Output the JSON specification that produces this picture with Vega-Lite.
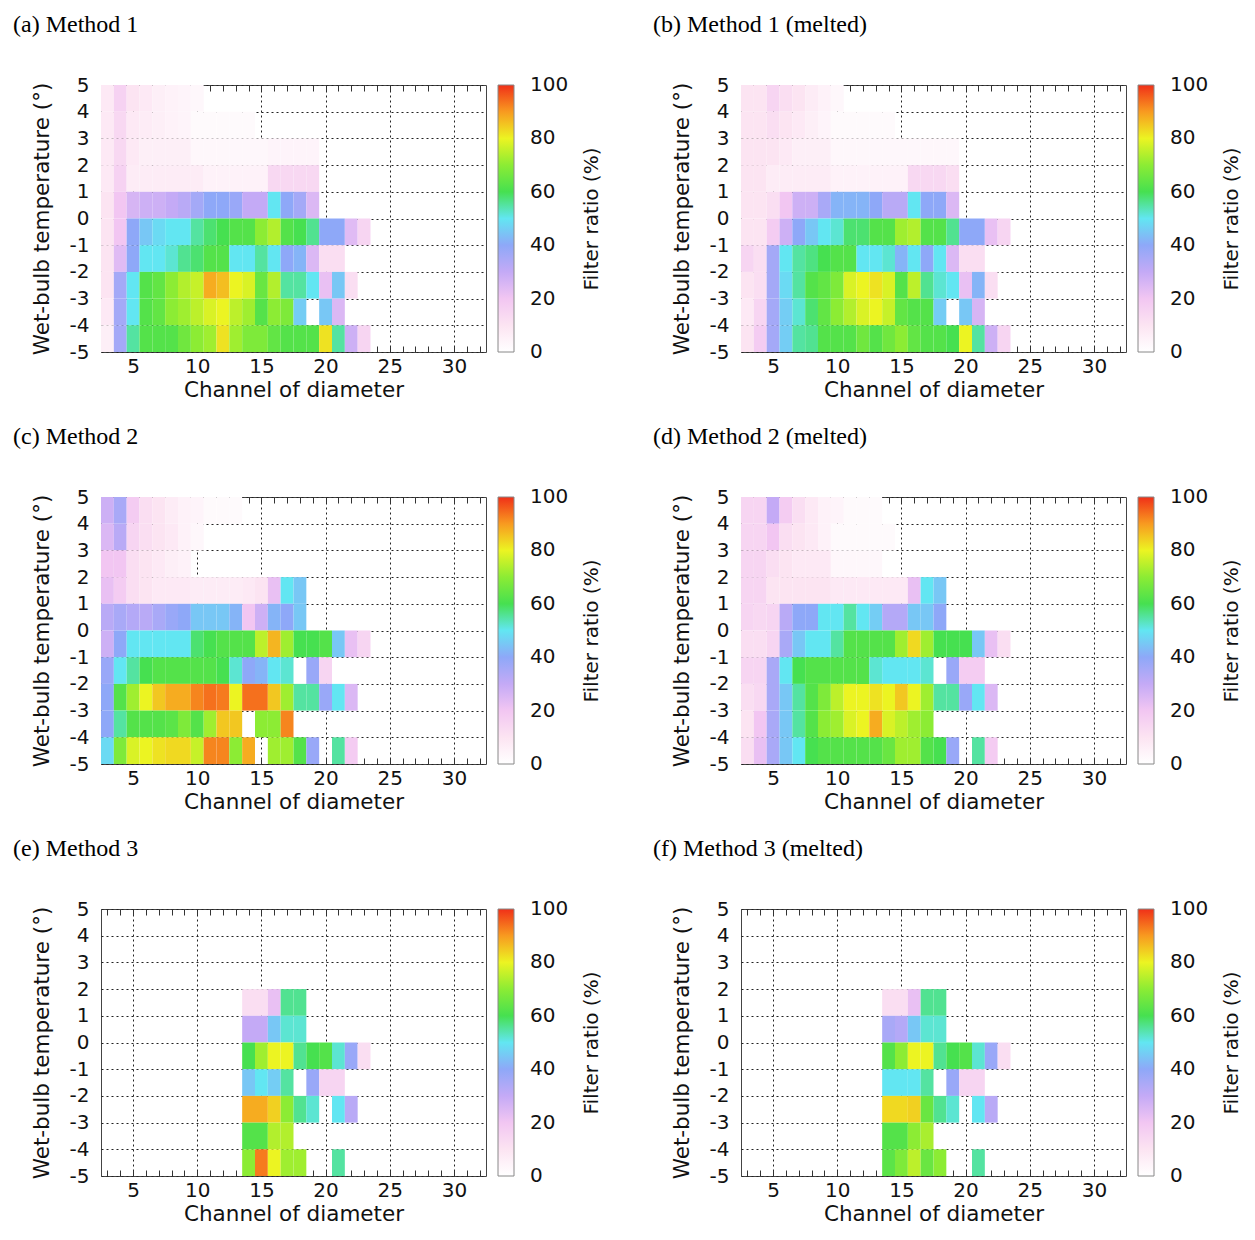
{
  "$schema": "https://vega.github.io/schema/vega-lite/v6.json",
  "background": "white",
  "padding": {"left": 12, "top": 12, "right": 10, "bottom": 10},
  "datasets": {
    "cells": [
      {"p":"a","tw":4,"ch":3,"r":8},{"p":"a","tw":4,"ch":4,"r":16},{"p":"a","tw":4,"ch":5,"r":10},{"p":"a","tw":4,"ch":6,"r":8},{"p":"a","tw":4,"ch":7,"r":6},{"p":"a","tw":4,"ch":8,"r":5},{"p":"a","tw":4,"ch":9,"r":4},{"p":"a","tw":4,"ch":10,"r":3},
      {"p":"a","tw":3,"ch":3,"r":8},{"p":"a","tw":3,"ch":4,"r":14},{"p":"a","tw":3,"ch":5,"r":8},{"p":"a","tw":3,"ch":6,"r":7},{"p":"a","tw":3,"ch":7,"r":6},{"p":"a","tw":3,"ch":8,"r":5},{"p":"a","tw":3,"ch":9,"r":4},{"p":"a","tw":3,"ch":10,"r":2},{"p":"a","tw":3,"ch":11,"r":2},{"p":"a","tw":3,"ch":12,"r":2},{"p":"a","tw":3,"ch":13,"r":2},{"p":"a","tw":3,"ch":14,"r":2},
      {"p":"a","tw":2,"ch":3,"r":8},{"p":"a","tw":2,"ch":4,"r":14},{"p":"a","tw":2,"ch":5,"r":8},{"p":"a","tw":2,"ch":6,"r":6},{"p":"a","tw":2,"ch":7,"r":6},{"p":"a","tw":2,"ch":8,"r":6},{"p":"a","tw":2,"ch":9,"r":6},{"p":"a","tw":2,"ch":10,"r":3},{"p":"a","tw":2,"ch":11,"r":3},{"p":"a","tw":2,"ch":12,"r":3},{"p":"a","tw":2,"ch":13,"r":3},{"p":"a","tw":2,"ch":14,"r":3},{"p":"a","tw":2,"ch":15,"r":3},{"p":"a","tw":2,"ch":16,"r":4},{"p":"a","tw":2,"ch":17,"r":4},{"p":"a","tw":2,"ch":18,"r":4},{"p":"a","tw":2,"ch":19,"r":4},
      {"p":"a","tw":1,"ch":3,"r":8},{"p":"a","tw":1,"ch":4,"r":16},{"p":"a","tw":1,"ch":5,"r":7},{"p":"a","tw":1,"ch":6,"r":7},{"p":"a","tw":1,"ch":7,"r":7},{"p":"a","tw":1,"ch":8,"r":7},{"p":"a","tw":1,"ch":9,"r":7},{"p":"a","tw":1,"ch":10,"r":7},{"p":"a","tw":1,"ch":11,"r":5},{"p":"a","tw":1,"ch":12,"r":5},{"p":"a","tw":1,"ch":13,"r":5},{"p":"a","tw":1,"ch":14,"r":5},{"p":"a","tw":1,"ch":15,"r":5},{"p":"a","tw":1,"ch":16,"r":14},{"p":"a","tw":1,"ch":17,"r":14},{"p":"a","tw":1,"ch":18,"r":14},{"p":"a","tw":1,"ch":19,"r":14},
      {"p":"a","tw":0,"ch":3,"r":10},{"p":"a","tw":0,"ch":4,"r":20},{"p":"a","tw":0,"ch":5,"r":26},{"p":"a","tw":0,"ch":6,"r":28},{"p":"a","tw":0,"ch":7,"r":28},{"p":"a","tw":0,"ch":8,"r":30},{"p":"a","tw":0,"ch":9,"r":32},{"p":"a","tw":0,"ch":10,"r":36},{"p":"a","tw":0,"ch":11,"r":40},{"p":"a","tw":0,"ch":12,"r":40},{"p":"a","tw":0,"ch":13,"r":38},{"p":"a","tw":0,"ch":14,"r":30},{"p":"a","tw":0,"ch":15,"r":30},{"p":"a","tw":0,"ch":16,"r":50},{"p":"a","tw":0,"ch":17,"r":40},{"p":"a","tw":0,"ch":18,"r":36},{"p":"a","tw":0,"ch":19,"r":25},
      {"p":"a","tw":-1,"ch":3,"r":10},{"p":"a","tw":-1,"ch":4,"r":20},{"p":"a","tw":-1,"ch":5,"r":40},{"p":"a","tw":-1,"ch":6,"r":45},{"p":"a","tw":-1,"ch":7,"r":48},{"p":"a","tw":-1,"ch":8,"r":50},{"p":"a","tw":-1,"ch":9,"r":50},{"p":"a","tw":-1,"ch":10,"r":55},{"p":"a","tw":-1,"ch":11,"r":58},{"p":"a","tw":-1,"ch":12,"r":60},{"p":"a","tw":-1,"ch":13,"r":62},{"p":"a","tw":-1,"ch":14,"r":62},{"p":"a","tw":-1,"ch":15,"r":70},{"p":"a","tw":-1,"ch":16,"r":74},{"p":"a","tw":-1,"ch":17,"r":62},{"p":"a","tw":-1,"ch":18,"r":60},{"p":"a","tw":-1,"ch":19,"r":56},{"p":"a","tw":-1,"ch":20,"r":40},{"p":"a","tw":-1,"ch":21,"r":40},{"p":"a","tw":-1,"ch":22,"r":24},{"p":"a","tw":-1,"ch":23,"r":15},
      {"p":"a","tw":-2,"ch":3,"r":10},{"p":"a","tw":-2,"ch":4,"r":24},{"p":"a","tw":-2,"ch":5,"r":40},{"p":"a","tw":-2,"ch":6,"r":50},{"p":"a","tw":-2,"ch":7,"r":50},{"p":"a","tw":-2,"ch":8,"r":52},{"p":"a","tw":-2,"ch":9,"r":56},{"p":"a","tw":-2,"ch":10,"r":58},{"p":"a","tw":-2,"ch":11,"r":62},{"p":"a","tw":-2,"ch":12,"r":62},{"p":"a","tw":-2,"ch":13,"r":50},{"p":"a","tw":-2,"ch":14,"r":50},{"p":"a","tw":-2,"ch":15,"r":55},{"p":"a","tw":-2,"ch":16,"r":50},{"p":"a","tw":-2,"ch":17,"r":40},{"p":"a","tw":-2,"ch":18,"r":42},{"p":"a","tw":-2,"ch":19,"r":25},{"p":"a","tw":-2,"ch":20,"r":12},{"p":"a","tw":-2,"ch":21,"r":12},
      {"p":"a","tw":-3,"ch":3,"r":10},{"p":"a","tw":-3,"ch":4,"r":36},{"p":"a","tw":-3,"ch":5,"r":50},{"p":"a","tw":-3,"ch":6,"r":62},{"p":"a","tw":-3,"ch":7,"r":64},{"p":"a","tw":-3,"ch":8,"r":70},{"p":"a","tw":-3,"ch":9,"r":74},{"p":"a","tw":-3,"ch":10,"r":76},{"p":"a","tw":-3,"ch":11,"r":88},{"p":"a","tw":-3,"ch":12,"r":86},{"p":"a","tw":-3,"ch":13,"r":80},{"p":"a","tw":-3,"ch":14,"r":78},{"p":"a","tw":-3,"ch":15,"r":65},{"p":"a","tw":-3,"ch":16,"r":74},{"p":"a","tw":-3,"ch":17,"r":55},{"p":"a","tw":-3,"ch":18,"r":55},{"p":"a","tw":-3,"ch":19,"r":50},{"p":"a","tw":-3,"ch":20,"r":22},{"p":"a","tw":-3,"ch":21,"r":45},{"p":"a","tw":-3,"ch":22,"r":12},
      {"p":"a","tw":-4,"ch":3,"r":8},{"p":"a","tw":-4,"ch":4,"r":36},{"p":"a","tw":-4,"ch":5,"r":50},{"p":"a","tw":-4,"ch":6,"r":62},{"p":"a","tw":-4,"ch":7,"r":64},{"p":"a","tw":-4,"ch":8,"r":70},{"p":"a","tw":-4,"ch":9,"r":72},{"p":"a","tw":-4,"ch":10,"r":75},{"p":"a","tw":-4,"ch":11,"r":78},{"p":"a","tw":-4,"ch":12,"r":80},{"p":"a","tw":-4,"ch":13,"r":75},{"p":"a","tw":-4,"ch":14,"r":72},{"p":"a","tw":-4,"ch":15,"r":62},{"p":"a","tw":-4,"ch":16,"r":70},{"p":"a","tw":-4,"ch":17,"r":68},{"p":"a","tw":-4,"ch":18,"r":46},{"p":"a","tw":-4,"ch":20,"r":45},{"p":"a","tw":-4,"ch":21,"r":25},
      {"p":"a","tw":-5,"ch":3,"r":6},{"p":"a","tw":-5,"ch":4,"r":36},{"p":"a","tw":-5,"ch":5,"r":55},{"p":"a","tw":-5,"ch":6,"r":62},{"p":"a","tw":-5,"ch":7,"r":62},{"p":"a","tw":-5,"ch":8,"r":62},{"p":"a","tw":-5,"ch":9,"r":66},{"p":"a","tw":-5,"ch":10,"r":70},{"p":"a","tw":-5,"ch":11,"r":72},{"p":"a","tw":-5,"ch":12,"r":82},{"p":"a","tw":-5,"ch":13,"r":72},{"p":"a","tw":-5,"ch":14,"r":68},{"p":"a","tw":-5,"ch":15,"r":68},{"p":"a","tw":-5,"ch":16,"r":64},{"p":"a","tw":-5,"ch":17,"r":62},{"p":"a","tw":-5,"ch":18,"r":62},{"p":"a","tw":-5,"ch":19,"r":62},{"p":"a","tw":-5,"ch":20,"r":82},{"p":"a","tw":-5,"ch":21,"r":55},{"p":"a","tw":-5,"ch":22,"r":28},{"p":"a","tw":-5,"ch":23,"r":15},

      {"p":"b","tw":4,"ch":3,"r":10},{"p":"b","tw":4,"ch":4,"r":10},{"p":"b","tw":4,"ch":5,"r":15},{"p":"b","tw":4,"ch":6,"r":12},{"p":"b","tw":4,"ch":7,"r":10},{"p":"b","tw":4,"ch":8,"r":7},{"p":"b","tw":4,"ch":9,"r":5},{"p":"b","tw":4,"ch":10,"r":3},
      {"p":"b","tw":3,"ch":3,"r":10},{"p":"b","tw":3,"ch":4,"r":10},{"p":"b","tw":3,"ch":5,"r":12},{"p":"b","tw":3,"ch":6,"r":10},{"p":"b","tw":3,"ch":7,"r":8},{"p":"b","tw":3,"ch":8,"r":6},{"p":"b","tw":3,"ch":9,"r":4},{"p":"b","tw":3,"ch":10,"r":2},{"p":"b","tw":3,"ch":11,"r":2},{"p":"b","tw":3,"ch":12,"r":2},{"p":"b","tw":3,"ch":13,"r":2},{"p":"b","tw":3,"ch":14,"r":2},
      {"p":"b","tw":2,"ch":3,"r":10},{"p":"b","tw":2,"ch":4,"r":10},{"p":"b","tw":2,"ch":5,"r":10},{"p":"b","tw":2,"ch":6,"r":8},{"p":"b","tw":2,"ch":7,"r":6},{"p":"b","tw":2,"ch":8,"r":6},{"p":"b","tw":2,"ch":9,"r":6},{"p":"b","tw":2,"ch":10,"r":3},{"p":"b","tw":2,"ch":11,"r":3},{"p":"b","tw":2,"ch":12,"r":3},{"p":"b","tw":2,"ch":13,"r":3},{"p":"b","tw":2,"ch":14,"r":3},{"p":"b","tw":2,"ch":15,"r":3},{"p":"b","tw":2,"ch":16,"r":3},{"p":"b","tw":2,"ch":17,"r":3},{"p":"b","tw":2,"ch":18,"r":3},{"p":"b","tw":2,"ch":19,"r":3},
      {"p":"b","tw":1,"ch":3,"r":10},{"p":"b","tw":1,"ch":4,"r":10},{"p":"b","tw":1,"ch":5,"r":7},{"p":"b","tw":1,"ch":6,"r":7},{"p":"b","tw":1,"ch":7,"r":7},{"p":"b","tw":1,"ch":8,"r":7},{"p":"b","tw":1,"ch":9,"r":7},{"p":"b","tw":1,"ch":10,"r":5},{"p":"b","tw":1,"ch":11,"r":5},{"p":"b","tw":1,"ch":12,"r":5},{"p":"b","tw":1,"ch":13,"r":5},{"p":"b","tw":1,"ch":14,"r":5},{"p":"b","tw":1,"ch":15,"r":5},{"p":"b","tw":1,"ch":16,"r":14},{"p":"b","tw":1,"ch":17,"r":14},{"p":"b","tw":1,"ch":18,"r":14},{"p":"b","tw":1,"ch":19,"r":12},
      {"p":"b","tw":0,"ch":3,"r":10},{"p":"b","tw":0,"ch":4,"r":10},{"p":"b","tw":0,"ch":5,"r":12},{"p":"b","tw":0,"ch":6,"r":20},{"p":"b","tw":0,"ch":7,"r":28},{"p":"b","tw":0,"ch":8,"r":28},{"p":"b","tw":0,"ch":9,"r":35},{"p":"b","tw":0,"ch":10,"r":42},{"p":"b","tw":0,"ch":11,"r":42},{"p":"b","tw":0,"ch":12,"r":42},{"p":"b","tw":0,"ch":13,"r":40},{"p":"b","tw":0,"ch":14,"r":32},{"p":"b","tw":0,"ch":15,"r":32},{"p":"b","tw":0,"ch":16,"r":50},{"p":"b","tw":0,"ch":17,"r":40},{"p":"b","tw":0,"ch":18,"r":40},{"p":"b","tw":0,"ch":19,"r":25},
      {"p":"b","tw":-1,"ch":3,"r":10},{"p":"b","tw":-1,"ch":4,"r":10},{"p":"b","tw":-1,"ch":5,"r":18},{"p":"b","tw":-1,"ch":6,"r":28},{"p":"b","tw":-1,"ch":7,"r":40},{"p":"b","tw":-1,"ch":8,"r":45},{"p":"b","tw":-1,"ch":9,"r":50},{"p":"b","tw":-1,"ch":10,"r":52},{"p":"b","tw":-1,"ch":11,"r":58},{"p":"b","tw":-1,"ch":12,"r":58},{"p":"b","tw":-1,"ch":13,"r":62},{"p":"b","tw":-1,"ch":14,"r":62},{"p":"b","tw":-1,"ch":15,"r":72},{"p":"b","tw":-1,"ch":16,"r":74},{"p":"b","tw":-1,"ch":17,"r":62},{"p":"b","tw":-1,"ch":18,"r":62},{"p":"b","tw":-1,"ch":19,"r":56},{"p":"b","tw":-1,"ch":20,"r":40},{"p":"b","tw":-1,"ch":21,"r":40},{"p":"b","tw":-1,"ch":22,"r":22},{"p":"b","tw":-1,"ch":23,"r":15},
      {"p":"b","tw":-2,"ch":3,"r":15},{"p":"b","tw":-2,"ch":4,"r":12},{"p":"b","tw":-2,"ch":5,"r":36},{"p":"b","tw":-2,"ch":6,"r":50},{"p":"b","tw":-2,"ch":7,"r":55},{"p":"b","tw":-2,"ch":8,"r":57},{"p":"b","tw":-2,"ch":9,"r":60},{"p":"b","tw":-2,"ch":10,"r":62},{"p":"b","tw":-2,"ch":11,"r":62},{"p":"b","tw":-2,"ch":12,"r":50},{"p":"b","tw":-2,"ch":13,"r":50},{"p":"b","tw":-2,"ch":14,"r":52},{"p":"b","tw":-2,"ch":15,"r":42},{"p":"b","tw":-2,"ch":16,"r":50},{"p":"b","tw":-2,"ch":17,"r":40},{"p":"b","tw":-2,"ch":18,"r":50},{"p":"b","tw":-2,"ch":19,"r":25},{"p":"b","tw":-2,"ch":20,"r":12},{"p":"b","tw":-2,"ch":21,"r":12},
      {"p":"b","tw":-3,"ch":3,"r":10},{"p":"b","tw":-3,"ch":4,"r":12},{"p":"b","tw":-3,"ch":5,"r":36},{"p":"b","tw":-3,"ch":6,"r":48},{"p":"b","tw":-3,"ch":7,"r":55},{"p":"b","tw":-3,"ch":8,"r":62},{"p":"b","tw":-3,"ch":9,"r":64},{"p":"b","tw":-3,"ch":10,"r":68},{"p":"b","tw":-3,"ch":11,"r":78},{"p":"b","tw":-3,"ch":12,"r":80},{"p":"b","tw":-3,"ch":13,"r":82},{"p":"b","tw":-3,"ch":14,"r":78},{"p":"b","tw":-3,"ch":15,"r":62},{"p":"b","tw":-3,"ch":16,"r":75},{"p":"b","tw":-3,"ch":17,"r":56},{"p":"b","tw":-3,"ch":18,"r":52},{"p":"b","tw":-3,"ch":19,"r":50},{"p":"b","tw":-3,"ch":20,"r":22},{"p":"b","tw":-3,"ch":21,"r":42},{"p":"b","tw":-3,"ch":22,"r":12},
      {"p":"b","tw":-4,"ch":3,"r":8},{"p":"b","tw":-4,"ch":4,"r":15},{"p":"b","tw":-4,"ch":5,"r":36},{"p":"b","tw":-4,"ch":6,"r":46},{"p":"b","tw":-4,"ch":7,"r":52},{"p":"b","tw":-4,"ch":8,"r":58},{"p":"b","tw":-4,"ch":9,"r":64},{"p":"b","tw":-4,"ch":10,"r":70},{"p":"b","tw":-4,"ch":11,"r":74},{"p":"b","tw":-4,"ch":12,"r":78},{"p":"b","tw":-4,"ch":13,"r":80},{"p":"b","tw":-4,"ch":14,"r":76},{"p":"b","tw":-4,"ch":15,"r":64},{"p":"b","tw":-4,"ch":16,"r":62},{"p":"b","tw":-4,"ch":17,"r":62},{"p":"b","tw":-4,"ch":18,"r":46},{"p":"b","tw":-4,"ch":20,"r":45},{"p":"b","tw":-4,"ch":21,"r":26},
      {"p":"b","tw":-5,"ch":3,"r":10},{"p":"b","tw":-5,"ch":4,"r":18},{"p":"b","tw":-5,"ch":5,"r":36},{"p":"b","tw":-5,"ch":6,"r":46},{"p":"b","tw":-5,"ch":7,"r":55},{"p":"b","tw":-5,"ch":8,"r":56},{"p":"b","tw":-5,"ch":9,"r":62},{"p":"b","tw":-5,"ch":10,"r":62},{"p":"b","tw":-5,"ch":11,"r":62},{"p":"b","tw":-5,"ch":12,"r":66},{"p":"b","tw":-5,"ch":13,"r":62},{"p":"b","tw":-5,"ch":14,"r":66},{"p":"b","tw":-5,"ch":15,"r":70},{"p":"b","tw":-5,"ch":16,"r":64},{"p":"b","tw":-5,"ch":17,"r":62},{"p":"b","tw":-5,"ch":18,"r":62},{"p":"b","tw":-5,"ch":19,"r":60},{"p":"b","tw":-5,"ch":20,"r":80},{"p":"b","tw":-5,"ch":21,"r":55},{"p":"b","tw":-5,"ch":22,"r":28},{"p":"b","tw":-5,"ch":23,"r":15},

      {"p":"c","tw":4,"ch":3,"r":28},{"p":"c","tw":4,"ch":4,"r":35},{"p":"c","tw":4,"ch":5,"r":18},{"p":"c","tw":4,"ch":6,"r":12},{"p":"c","tw":4,"ch":7,"r":10},{"p":"c","tw":4,"ch":8,"r":7},{"p":"c","tw":4,"ch":9,"r":5},{"p":"c","tw":4,"ch":10,"r":4},{"p":"c","tw":4,"ch":11,"r":2},{"p":"c","tw":4,"ch":12,"r":2},{"p":"c","tw":4,"ch":13,"r":2},
      {"p":"c","tw":3,"ch":3,"r":25},{"p":"c","tw":3,"ch":4,"r":32},{"p":"c","tw":3,"ch":5,"r":15},{"p":"c","tw":3,"ch":6,"r":12},{"p":"c","tw":3,"ch":7,"r":10},{"p":"c","tw":3,"ch":8,"r":8},{"p":"c","tw":3,"ch":9,"r":5},{"p":"c","tw":3,"ch":10,"r":3},
      {"p":"c","tw":2,"ch":3,"r":20},{"p":"c","tw":2,"ch":4,"r":20},{"p":"c","tw":2,"ch":5,"r":12},{"p":"c","tw":2,"ch":6,"r":10},{"p":"c","tw":2,"ch":7,"r":8},{"p":"c","tw":2,"ch":8,"r":6},{"p":"c","tw":2,"ch":9,"r":5},
      {"p":"c","tw":1,"ch":3,"r":22},{"p":"c","tw":1,"ch":4,"r":18},{"p":"c","tw":1,"ch":5,"r":12},{"p":"c","tw":1,"ch":6,"r":10},{"p":"c","tw":1,"ch":7,"r":8},{"p":"c","tw":1,"ch":8,"r":8},{"p":"c","tw":1,"ch":9,"r":8},{"p":"c","tw":1,"ch":10,"r":7},{"p":"c","tw":1,"ch":11,"r":7},{"p":"c","tw":1,"ch":12,"r":7},{"p":"c","tw":1,"ch":13,"r":7},{"p":"c","tw":1,"ch":14,"r":8},{"p":"c","tw":1,"ch":15,"r":10},{"p":"c","tw":1,"ch":16,"r":22},{"p":"c","tw":1,"ch":17,"r":50},{"p":"c","tw":1,"ch":18,"r":45},
      {"p":"c","tw":0,"ch":3,"r":32},{"p":"c","tw":0,"ch":4,"r":35},{"p":"c","tw":0,"ch":5,"r":33},{"p":"c","tw":0,"ch":6,"r":32},{"p":"c","tw":0,"ch":7,"r":35},{"p":"c","tw":0,"ch":8,"r":38},{"p":"c","tw":0,"ch":9,"r":40},{"p":"c","tw":0,"ch":10,"r":45},{"p":"c","tw":0,"ch":11,"r":45},{"p":"c","tw":0,"ch":12,"r":45},{"p":"c","tw":0,"ch":13,"r":42},{"p":"c","tw":0,"ch":14,"r":20},{"p":"c","tw":0,"ch":15,"r":28},{"p":"c","tw":0,"ch":16,"r":42},{"p":"c","tw":0,"ch":17,"r":40},{"p":"c","tw":0,"ch":18,"r":45},
      {"p":"c","tw":-1,"ch":3,"r":28},{"p":"c","tw":-1,"ch":4,"r":40},{"p":"c","tw":-1,"ch":5,"r":50},{"p":"c","tw":-1,"ch":6,"r":50},{"p":"c","tw":-1,"ch":7,"r":50},{"p":"c","tw":-1,"ch":8,"r":50},{"p":"c","tw":-1,"ch":9,"r":50},{"p":"c","tw":-1,"ch":10,"r":58},{"p":"c","tw":-1,"ch":11,"r":60},{"p":"c","tw":-1,"ch":12,"r":62},{"p":"c","tw":-1,"ch":13,"r":62},{"p":"c","tw":-1,"ch":14,"r":62},{"p":"c","tw":-1,"ch":15,"r":75},{"p":"c","tw":-1,"ch":16,"r":87},{"p":"c","tw":-1,"ch":17,"r":72},{"p":"c","tw":-1,"ch":18,"r":60},{"p":"c","tw":-1,"ch":19,"r":60},{"p":"c","tw":-1,"ch":20,"r":62},{"p":"c","tw":-1,"ch":21,"r":45},{"p":"c","tw":-1,"ch":22,"r":22},{"p":"c","tw":-1,"ch":23,"r":15},
      {"p":"c","tw":-2,"ch":3,"r":38},{"p":"c","tw":-2,"ch":4,"r":50},{"p":"c","tw":-2,"ch":5,"r":55},{"p":"c","tw":-2,"ch":6,"r":60},{"p":"c","tw":-2,"ch":7,"r":62},{"p":"c","tw":-2,"ch":8,"r":62},{"p":"c","tw":-2,"ch":9,"r":62},{"p":"c","tw":-2,"ch":10,"r":62},{"p":"c","tw":-2,"ch":11,"r":62},{"p":"c","tw":-2,"ch":12,"r":60},{"p":"c","tw":-2,"ch":13,"r":52},{"p":"c","tw":-2,"ch":14,"r":40},{"p":"c","tw":-2,"ch":15,"r":42},{"p":"c","tw":-2,"ch":16,"r":50},{"p":"c","tw":-2,"ch":17,"r":52},{"p":"c","tw":-2,"ch":19,"r":38},{"p":"c","tw":-2,"ch":20,"r":15},
      {"p":"c","tw":-3,"ch":3,"r":40},{"p":"c","tw":-3,"ch":4,"r":62},{"p":"c","tw":-3,"ch":5,"r":72},{"p":"c","tw":-3,"ch":6,"r":80},{"p":"c","tw":-3,"ch":7,"r":85},{"p":"c","tw":-3,"ch":8,"r":88},{"p":"c","tw":-3,"ch":9,"r":88},{"p":"c","tw":-3,"ch":10,"r":92},{"p":"c","tw":-3,"ch":11,"r":94},{"p":"c","tw":-3,"ch":12,"r":93},{"p":"c","tw":-3,"ch":13,"r":80},{"p":"c","tw":-3,"ch":14,"r":94},{"p":"c","tw":-3,"ch":15,"r":94},{"p":"c","tw":-3,"ch":16,"r":85},{"p":"c","tw":-3,"ch":17,"r":72},{"p":"c","tw":-3,"ch":18,"r":55},{"p":"c","tw":-3,"ch":19,"r":55},{"p":"c","tw":-3,"ch":20,"r":38},{"p":"c","tw":-3,"ch":21,"r":50},{"p":"c","tw":-3,"ch":22,"r":25},
      {"p":"c","tw":-4,"ch":3,"r":40},{"p":"c","tw":-4,"ch":4,"r":55},{"p":"c","tw":-4,"ch":5,"r":62},{"p":"c","tw":-4,"ch":6,"r":62},{"p":"c","tw":-4,"ch":7,"r":62},{"p":"c","tw":-4,"ch":8,"r":63},{"p":"c","tw":-4,"ch":9,"r":68},{"p":"c","tw":-4,"ch":10,"r":62},{"p":"c","tw":-4,"ch":11,"r":72},{"p":"c","tw":-4,"ch":12,"r":85},{"p":"c","tw":-4,"ch":13,"r":85},{"p":"c","tw":-4,"ch":15,"r":70},{"p":"c","tw":-4,"ch":16,"r":70},{"p":"c","tw":-4,"ch":17,"r":92},
      {"p":"c","tw":-5,"ch":3,"r":48},{"p":"c","tw":-5,"ch":4,"r":68},{"p":"c","tw":-5,"ch":5,"r":78},{"p":"c","tw":-5,"ch":6,"r":80},{"p":"c","tw":-5,"ch":7,"r":82},{"p":"c","tw":-5,"ch":8,"r":83},{"p":"c","tw":-5,"ch":9,"r":83},{"p":"c","tw":-5,"ch":10,"r":76},{"p":"c","tw":-5,"ch":11,"r":92},{"p":"c","tw":-5,"ch":12,"r":92},{"p":"c","tw":-5,"ch":13,"r":70},{"p":"c","tw":-5,"ch":14,"r":88},{"p":"c","tw":-5,"ch":16,"r":72},{"p":"c","tw":-5,"ch":17,"r":72},{"p":"c","tw":-5,"ch":18,"r":62},{"p":"c","tw":-5,"ch":19,"r":38},{"p":"c","tw":-5,"ch":21,"r":55},{"p":"c","tw":-5,"ch":22,"r":18},

      {"p":"d","tw":4,"ch":3,"r":15},{"p":"d","tw":4,"ch":4,"r":15},{"p":"d","tw":4,"ch":5,"r":30},{"p":"d","tw":4,"ch":6,"r":18},{"p":"d","tw":4,"ch":7,"r":12},{"p":"d","tw":4,"ch":8,"r":8},{"p":"d","tw":4,"ch":9,"r":5},{"p":"d","tw":4,"ch":10,"r":4},{"p":"d","tw":4,"ch":11,"r":2},{"p":"d","tw":4,"ch":12,"r":2},{"p":"d","tw":4,"ch":13,"r":2},
      {"p":"d","tw":3,"ch":3,"r":15},{"p":"d","tw":3,"ch":4,"r":15},{"p":"d","tw":3,"ch":5,"r":20},{"p":"d","tw":3,"ch":6,"r":12},{"p":"d","tw":3,"ch":7,"r":10},{"p":"d","tw":3,"ch":8,"r":8},{"p":"d","tw":3,"ch":9,"r":5},{"p":"d","tw":3,"ch":10,"r":2},{"p":"d","tw":3,"ch":11,"r":2},{"p":"d","tw":3,"ch":12,"r":2},{"p":"d","tw":3,"ch":13,"r":2},{"p":"d","tw":3,"ch":14,"r":2},
      {"p":"d","tw":2,"ch":3,"r":15},{"p":"d","tw":2,"ch":4,"r":15},{"p":"d","tw":2,"ch":5,"r":12},{"p":"d","tw":2,"ch":6,"r":10},{"p":"d","tw":2,"ch":7,"r":8},{"p":"d","tw":2,"ch":8,"r":8},{"p":"d","tw":2,"ch":9,"r":8},{"p":"d","tw":2,"ch":10,"r":3},{"p":"d","tw":2,"ch":11,"r":3},{"p":"d","tw":2,"ch":12,"r":3},{"p":"d","tw":2,"ch":13,"r":3},
      {"p":"d","tw":1,"ch":3,"r":15},{"p":"d","tw":1,"ch":4,"r":15},{"p":"d","tw":1,"ch":5,"r":10},{"p":"d","tw":1,"ch":6,"r":10},{"p":"d","tw":1,"ch":7,"r":10},{"p":"d","tw":1,"ch":8,"r":10},{"p":"d","tw":1,"ch":9,"r":10},{"p":"d","tw":1,"ch":10,"r":8},{"p":"d","tw":1,"ch":11,"r":8},{"p":"d","tw":1,"ch":12,"r":8},{"p":"d","tw":1,"ch":13,"r":8},{"p":"d","tw":1,"ch":14,"r":8},{"p":"d","tw":1,"ch":15,"r":8},{"p":"d","tw":1,"ch":16,"r":22},{"p":"d","tw":1,"ch":17,"r":50},{"p":"d","tw":1,"ch":18,"r":45},
      {"p":"d","tw":0,"ch":3,"r":15},{"p":"d","tw":0,"ch":4,"r":14},{"p":"d","tw":0,"ch":5,"r":15},{"p":"d","tw":0,"ch":6,"r":32},{"p":"d","tw":0,"ch":7,"r":40},{"p":"d","tw":0,"ch":8,"r":40},{"p":"d","tw":0,"ch":9,"r":50},{"p":"d","tw":0,"ch":10,"r":50},{"p":"d","tw":0,"ch":11,"r":55},{"p":"d","tw":0,"ch":12,"r":50},{"p":"d","tw":0,"ch":13,"r":46},{"p":"d","tw":0,"ch":14,"r":33},{"p":"d","tw":0,"ch":15,"r":33},{"p":"d","tw":0,"ch":16,"r":45},{"p":"d","tw":0,"ch":17,"r":45},{"p":"d","tw":0,"ch":18,"r":40},
      {"p":"d","tw":-1,"ch":3,"r":12},{"p":"d","tw":-1,"ch":4,"r":12},{"p":"d","tw":-1,"ch":5,"r":15},{"p":"d","tw":-1,"ch":6,"r":35},{"p":"d","tw":-1,"ch":7,"r":45},{"p":"d","tw":-1,"ch":8,"r":50},{"p":"d","tw":-1,"ch":9,"r":50},{"p":"d","tw":-1,"ch":10,"r":55},{"p":"d","tw":-1,"ch":11,"r":62},{"p":"d","tw":-1,"ch":12,"r":62},{"p":"d","tw":-1,"ch":13,"r":62},{"p":"d","tw":-1,"ch":14,"r":62},{"p":"d","tw":-1,"ch":15,"r":72},{"p":"d","tw":-1,"ch":16,"r":83},{"p":"d","tw":-1,"ch":17,"r":72},{"p":"d","tw":-1,"ch":18,"r":60},{"p":"d","tw":-1,"ch":19,"r":60},{"p":"d","tw":-1,"ch":20,"r":60},{"p":"d","tw":-1,"ch":21,"r":45},{"p":"d","tw":-1,"ch":22,"r":22},{"p":"d","tw":-1,"ch":23,"r":12},
      {"p":"d","tw":-2,"ch":3,"r":15},{"p":"d","tw":-2,"ch":4,"r":15},{"p":"d","tw":-2,"ch":5,"r":35},{"p":"d","tw":-2,"ch":6,"r":50},{"p":"d","tw":-2,"ch":7,"r":60},{"p":"d","tw":-2,"ch":8,"r":62},{"p":"d","tw":-2,"ch":9,"r":62},{"p":"d","tw":-2,"ch":10,"r":62},{"p":"d","tw":-2,"ch":11,"r":62},{"p":"d","tw":-2,"ch":12,"r":62},{"p":"d","tw":-2,"ch":13,"r":52},{"p":"d","tw":-2,"ch":14,"r":50},{"p":"d","tw":-2,"ch":15,"r":50},{"p":"d","tw":-2,"ch":16,"r":50},{"p":"d","tw":-2,"ch":17,"r":52},{"p":"d","tw":-2,"ch":19,"r":38},{"p":"d","tw":-2,"ch":20,"r":18},{"p":"d","tw":-2,"ch":21,"r":18},
      {"p":"d","tw":-3,"ch":3,"r":12},{"p":"d","tw":-3,"ch":4,"r":14},{"p":"d","tw":-3,"ch":5,"r":35},{"p":"d","tw":-3,"ch":6,"r":45},{"p":"d","tw":-3,"ch":7,"r":55},{"p":"d","tw":-3,"ch":8,"r":62},{"p":"d","tw":-3,"ch":9,"r":68},{"p":"d","tw":-3,"ch":10,"r":75},{"p":"d","tw":-3,"ch":11,"r":80},{"p":"d","tw":-3,"ch":12,"r":80},{"p":"d","tw":-3,"ch":13,"r":82},{"p":"d","tw":-3,"ch":14,"r":80},{"p":"d","tw":-3,"ch":15,"r":85},{"p":"d","tw":-3,"ch":16,"r":80},{"p":"d","tw":-3,"ch":17,"r":72},{"p":"d","tw":-3,"ch":18,"r":55},{"p":"d","tw":-3,"ch":19,"r":55},{"p":"d","tw":-3,"ch":20,"r":38},{"p":"d","tw":-3,"ch":21,"r":50},{"p":"d","tw":-3,"ch":22,"r":25},
      {"p":"d","tw":-4,"ch":3,"r":10},{"p":"d","tw":-4,"ch":4,"r":20},{"p":"d","tw":-4,"ch":5,"r":35},{"p":"d","tw":-4,"ch":6,"r":45},{"p":"d","tw":-4,"ch":7,"r":55},{"p":"d","tw":-4,"ch":8,"r":62},{"p":"d","tw":-4,"ch":9,"r":70},{"p":"d","tw":-4,"ch":10,"r":72},{"p":"d","tw":-4,"ch":11,"r":78},{"p":"d","tw":-4,"ch":12,"r":80},{"p":"d","tw":-4,"ch":13,"r":88},{"p":"d","tw":-4,"ch":14,"r":78},{"p":"d","tw":-4,"ch":15,"r":75},{"p":"d","tw":-4,"ch":16,"r":72},{"p":"d","tw":-4,"ch":17,"r":70},
      {"p":"d","tw":-5,"ch":3,"r":12},{"p":"d","tw":-5,"ch":4,"r":22},{"p":"d","tw":-5,"ch":5,"r":35},{"p":"d","tw":-5,"ch":6,"r":45},{"p":"d","tw":-5,"ch":7,"r":50},{"p":"d","tw":-5,"ch":8,"r":60},{"p":"d","tw":-5,"ch":9,"r":62},{"p":"d","tw":-5,"ch":10,"r":62},{"p":"d","tw":-5,"ch":11,"r":62},{"p":"d","tw":-5,"ch":12,"r":62},{"p":"d","tw":-5,"ch":13,"r":62},{"p":"d","tw":-5,"ch":14,"r":65},{"p":"d","tw":-5,"ch":15,"r":72},{"p":"d","tw":-5,"ch":16,"r":72},{"p":"d","tw":-5,"ch":17,"r":62},{"p":"d","tw":-5,"ch":18,"r":60},{"p":"d","tw":-5,"ch":19,"r":38},{"p":"d","tw":-5,"ch":21,"r":55},{"p":"d","tw":-5,"ch":22,"r":18},

      {"p":"e","tw":1,"ch":14,"r":12},{"p":"e","tw":1,"ch":15,"r":12},{"p":"e","tw":1,"ch":16,"r":22},{"p":"e","tw":1,"ch":17,"r":56},{"p":"e","tw":1,"ch":18,"r":56},
      {"p":"e","tw":0,"ch":14,"r":30},{"p":"e","tw":0,"ch":15,"r":30},{"p":"e","tw":0,"ch":16,"r":45},{"p":"e","tw":0,"ch":17,"r":52},{"p":"e","tw":0,"ch":18,"r":52},
      {"p":"e","tw":-1,"ch":14,"r":60},{"p":"e","tw":-1,"ch":15,"r":72},{"p":"e","tw":-1,"ch":16,"r":80},{"p":"e","tw":-1,"ch":17,"r":80},{"p":"e","tw":-1,"ch":18,"r":56},{"p":"e","tw":-1,"ch":19,"r":60},{"p":"e","tw":-1,"ch":20,"r":62},{"p":"e","tw":-1,"ch":21,"r":52},{"p":"e","tw":-1,"ch":22,"r":38},{"p":"e","tw":-1,"ch":23,"r":12},
      {"p":"e","tw":-2,"ch":14,"r":45},{"p":"e","tw":-2,"ch":15,"r":50},{"p":"e","tw":-2,"ch":16,"r":46},{"p":"e","tw":-2,"ch":17,"r":55},{"p":"e","tw":-2,"ch":19,"r":38},{"p":"e","tw":-2,"ch":20,"r":15},{"p":"e","tw":-2,"ch":21,"r":15},
      {"p":"e","tw":-3,"ch":14,"r":88},{"p":"e","tw":-3,"ch":15,"r":88},{"p":"e","tw":-3,"ch":16,"r":84},{"p":"e","tw":-3,"ch":17,"r":70},{"p":"e","tw":-3,"ch":18,"r":56},{"p":"e","tw":-3,"ch":19,"r":52},{"p":"e","tw":-3,"ch":21,"r":50},{"p":"e","tw":-3,"ch":22,"r":32},
      {"p":"e","tw":-4,"ch":14,"r":62},{"p":"e","tw":-4,"ch":15,"r":62},{"p":"e","tw":-4,"ch":16,"r":74},{"p":"e","tw":-4,"ch":17,"r":74},
      {"p":"e","tw":-5,"ch":14,"r":70},{"p":"e","tw":-5,"ch":15,"r":93},{"p":"e","tw":-5,"ch":16,"r":80},{"p":"e","tw":-5,"ch":17,"r":72},{"p":"e","tw":-5,"ch":18,"r":72},{"p":"e","tw":-5,"ch":21,"r":55},

      {"p":"f","tw":1,"ch":14,"r":12},{"p":"f","tw":1,"ch":15,"r":12},{"p":"f","tw":1,"ch":16,"r":22},{"p":"f","tw":1,"ch":17,"r":56},{"p":"f","tw":1,"ch":18,"r":56},
      {"p":"f","tw":0,"ch":14,"r":35},{"p":"f","tw":0,"ch":15,"r":33},{"p":"f","tw":0,"ch":16,"r":45},{"p":"f","tw":0,"ch":17,"r":52},{"p":"f","tw":0,"ch":18,"r":52},
      {"p":"f","tw":-1,"ch":14,"r":62},{"p":"f","tw":-1,"ch":15,"r":70},{"p":"f","tw":-1,"ch":16,"r":80},{"p":"f","tw":-1,"ch":17,"r":80},{"p":"f","tw":-1,"ch":18,"r":56},{"p":"f","tw":-1,"ch":19,"r":60},{"p":"f","tw":-1,"ch":20,"r":62},{"p":"f","tw":-1,"ch":21,"r":52},{"p":"f","tw":-1,"ch":22,"r":38},{"p":"f","tw":-1,"ch":23,"r":12},
      {"p":"f","tw":-2,"ch":14,"r":50},{"p":"f","tw":-2,"ch":15,"r":50},{"p":"f","tw":-2,"ch":16,"r":50},{"p":"f","tw":-2,"ch":17,"r":55},{"p":"f","tw":-2,"ch":19,"r":38},{"p":"f","tw":-2,"ch":20,"r":15},{"p":"f","tw":-2,"ch":21,"r":15},
      {"p":"f","tw":-3,"ch":14,"r":83},{"p":"f","tw":-3,"ch":15,"r":83},{"p":"f","tw":-3,"ch":16,"r":84},{"p":"f","tw":-3,"ch":17,"r":65},{"p":"f","tw":-3,"ch":18,"r":56},{"p":"f","tw":-3,"ch":19,"r":52},{"p":"f","tw":-3,"ch":21,"r":50},{"p":"f","tw":-3,"ch":22,"r":32},
      {"p":"f","tw":-4,"ch":14,"r":62},{"p":"f","tw":-4,"ch":15,"r":62},{"p":"f","tw":-4,"ch":16,"r":70},{"p":"f","tw":-4,"ch":17,"r":73},
      {"p":"f","tw":-5,"ch":14,"r":63},{"p":"f","tw":-5,"ch":15,"r":68},{"p":"f","tw":-5,"ch":16,"r":75},{"p":"f","tw":-5,"ch":17,"r":65},{"p":"f","tw":-5,"ch":18,"r":70},{"p":"f","tw":-5,"ch":21,"r":55}
    ]
  },
  "data": {"name": "cells"},
  "columns": 2,
  "spacing": {"row": 145, "column": 255},
  "bounds": "flush",
  "resolve": {"scale": {"color": "shared"}, "legend": {"color": "independent"}},
  "concat": [
    {
      "title": "(a) Method 1",
      "width": 385, "height": 267,
      "transform": [{"filter": "datum.p === 'a'"}, {"calculate": "datum.ch - 0.5", "as": "ch0"}, {"calculate": "datum.ch + 0.5", "as": "ch1"}, {"calculate": "datum.tw + 1", "as": "tw1"}],
      "layer": [
        {"mark": {"type": "rect"},
         "encoding": {
           "x": {"field": "ch0", "type": "quantitative", "title": "Channel of diameter", "scale": {"domain": [2.5, 32.5], "nice": false, "zero": false}, "axis": {"orient": "bottom", "values": [3,4,5,6,7,8,9,10,11,12,13,14,15,16,17,18,19,20,21,22,23,24,25,26,27,28,29,30,31,32], "labelExpr": "datum.value % 5 === 0 ? datum.label : ''", "gridOpacity": {"condition": {"test": "datum.value % 5 === 0", "value": 1}, "value": 0}}},
           "x2": {"field": "ch1"},
           "y": {"field": "tw", "type": "quantitative", "title": "Wet-bulb temperature (°)", "scale": {"domain": [-5, 5], "nice": false, "zero": false}, "axis": {"orient": "left", "values": [-5,-4,-3,-2,-1,0,1,2,3,4,5], "labelExpr": "toString(datum.value)"}},
           "y2": {"field": "tw1"},
           "color": {"field": "r", "type": "quantitative", "scale": {"domain": [0,10,20,30,40,50,60,70,80,90,100], "range": ["#ffffff","#fce4f2","#f2c6f2","#c4aaf6","#8ea8f8","#62e6f2","#46e050","#8cec34","#ecf422","#f89a20","#f03018"], "interpolate": "rgb"}, "legend": {"title": null, "orient": "none", "legendX": 397, "legendY": 0, "values": [0,20,40,60,80,100], "labelOffset": 16, "encode": {"labels": {"update": {"baseline": {"value": "middle"}}}}}}
         }},
        {"mark": {"type": "rect", "opacity": 0},
         "encoding": {
           "x": {"field": "ch0", "type": "quantitative", "axis": {"orient": "top", "values": [3,4,5,6,7,8,9,10,11,12,13,14,15,16,17,18,19,20,21,22,23,24,25,26,27,28,29,30,31,32], "labels": false, "grid": false, "title": null}},
           "x2": {"field": "ch1"},
           "y": {"field": "tw", "type": "quantitative", "axis": {"orient": "right", "labels": false, "ticks": false, "grid": false, "title": "Filter ratio (%)", "titleAngle": 270, "titleX": 105, "titleY": 133.5, "titleAlign": "center", "titleBaseline": "middle", "titleFontSize": 20}},
           "y2": {"field": "tw1"}
         }}
      ]
    },
    {
      "title": "(b) Method 1 (melted)",
      "width": 385, "height": 267,
      "transform": [{"filter": "datum.p === 'b'"}, {"calculate": "datum.ch - 0.5", "as": "ch0"}, {"calculate": "datum.ch + 0.5", "as": "ch1"}, {"calculate": "datum.tw + 1", "as": "tw1"}],
      "layer": [
        {"mark": {"type": "rect"},
         "encoding": {
           "x": {"field": "ch0", "type": "quantitative", "title": "Channel of diameter", "scale": {"domain": [2.5, 32.5], "nice": false, "zero": false}, "axis": {"orient": "bottom", "values": [3,4,5,6,7,8,9,10,11,12,13,14,15,16,17,18,19,20,21,22,23,24,25,26,27,28,29,30,31,32], "labelExpr": "datum.value % 5 === 0 ? datum.label : ''", "gridOpacity": {"condition": {"test": "datum.value % 5 === 0", "value": 1}, "value": 0}}},
           "x2": {"field": "ch1"},
           "y": {"field": "tw", "type": "quantitative", "title": "Wet-bulb temperature (°)", "scale": {"domain": [-5, 5], "nice": false, "zero": false}, "axis": {"orient": "left", "values": [-5,-4,-3,-2,-1,0,1,2,3,4,5], "labelExpr": "toString(datum.value)"}},
           "y2": {"field": "tw1"},
           "color": {"field": "r", "type": "quantitative", "scale": {"domain": [0,10,20,30,40,50,60,70,80,90,100], "range": ["#ffffff","#fce4f2","#f2c6f2","#c4aaf6","#8ea8f8","#62e6f2","#46e050","#8cec34","#ecf422","#f89a20","#f03018"], "interpolate": "rgb"}, "legend": {"title": null, "orient": "none", "legendX": 397, "legendY": 0, "values": [0,20,40,60,80,100], "labelOffset": 16, "encode": {"labels": {"update": {"baseline": {"value": "middle"}}}}}}
         }},
        {"mark": {"type": "rect", "opacity": 0},
         "encoding": {
           "x": {"field": "ch0", "type": "quantitative", "axis": {"orient": "top", "values": [3,4,5,6,7,8,9,10,11,12,13,14,15,16,17,18,19,20,21,22,23,24,25,26,27,28,29,30,31,32], "labels": false, "grid": false, "title": null}},
           "x2": {"field": "ch1"},
           "y": {"field": "tw", "type": "quantitative", "axis": {"orient": "right", "labels": false, "ticks": false, "grid": false, "title": "Filter ratio (%)", "titleAngle": 270, "titleX": 105, "titleY": 133.5, "titleAlign": "center", "titleBaseline": "middle", "titleFontSize": 20}},
           "y2": {"field": "tw1"}
         }}
      ]
    },
    {
      "title": "(c) Method 2",
      "width": 385, "height": 267,
      "transform": [{"filter": "datum.p === 'c'"}, {"calculate": "datum.ch - 0.5", "as": "ch0"}, {"calculate": "datum.ch + 0.5", "as": "ch1"}, {"calculate": "datum.tw + 1", "as": "tw1"}],
      "layer": [
        {"mark": {"type": "rect"},
         "encoding": {
           "x": {"field": "ch0", "type": "quantitative", "title": "Channel of diameter", "scale": {"domain": [2.5, 32.5], "nice": false, "zero": false}, "axis": {"orient": "bottom", "values": [3,4,5,6,7,8,9,10,11,12,13,14,15,16,17,18,19,20,21,22,23,24,25,26,27,28,29,30,31,32], "labelExpr": "datum.value % 5 === 0 ? datum.label : ''", "gridOpacity": {"condition": {"test": "datum.value % 5 === 0", "value": 1}, "value": 0}}},
           "x2": {"field": "ch1"},
           "y": {"field": "tw", "type": "quantitative", "title": "Wet-bulb temperature (°)", "scale": {"domain": [-5, 5], "nice": false, "zero": false}, "axis": {"orient": "left", "values": [-5,-4,-3,-2,-1,0,1,2,3,4,5], "labelExpr": "toString(datum.value)"}},
           "y2": {"field": "tw1"},
           "color": {"field": "r", "type": "quantitative", "scale": {"domain": [0,10,20,30,40,50,60,70,80,90,100], "range": ["#ffffff","#fce4f2","#f2c6f2","#c4aaf6","#8ea8f8","#62e6f2","#46e050","#8cec34","#ecf422","#f89a20","#f03018"], "interpolate": "rgb"}, "legend": {"title": null, "orient": "none", "legendX": 397, "legendY": 0, "values": [0,20,40,60,80,100], "labelOffset": 16, "encode": {"labels": {"update": {"baseline": {"value": "middle"}}}}}}
         }},
        {"mark": {"type": "rect", "opacity": 0},
         "encoding": {
           "x": {"field": "ch0", "type": "quantitative", "axis": {"orient": "top", "values": [3,4,5,6,7,8,9,10,11,12,13,14,15,16,17,18,19,20,21,22,23,24,25,26,27,28,29,30,31,32], "labels": false, "grid": false, "title": null}},
           "x2": {"field": "ch1"},
           "y": {"field": "tw", "type": "quantitative", "axis": {"orient": "right", "labels": false, "ticks": false, "grid": false, "title": "Filter ratio (%)", "titleAngle": 270, "titleX": 105, "titleY": 133.5, "titleAlign": "center", "titleBaseline": "middle", "titleFontSize": 20}},
           "y2": {"field": "tw1"}
         }}
      ]
    },
    {
      "title": "(d) Method 2 (melted)",
      "width": 385, "height": 267,
      "transform": [{"filter": "datum.p === 'd'"}, {"calculate": "datum.ch - 0.5", "as": "ch0"}, {"calculate": "datum.ch + 0.5", "as": "ch1"}, {"calculate": "datum.tw + 1", "as": "tw1"}],
      "layer": [
        {"mark": {"type": "rect"},
         "encoding": {
           "x": {"field": "ch0", "type": "quantitative", "title": "Channel of diameter", "scale": {"domain": [2.5, 32.5], "nice": false, "zero": false}, "axis": {"orient": "bottom", "values": [3,4,5,6,7,8,9,10,11,12,13,14,15,16,17,18,19,20,21,22,23,24,25,26,27,28,29,30,31,32], "labelExpr": "datum.value % 5 === 0 ? datum.label : ''", "gridOpacity": {"condition": {"test": "datum.value % 5 === 0", "value": 1}, "value": 0}}},
           "x2": {"field": "ch1"},
           "y": {"field": "tw", "type": "quantitative", "title": "Wet-bulb temperature (°)", "scale": {"domain": [-5, 5], "nice": false, "zero": false}, "axis": {"orient": "left", "values": [-5,-4,-3,-2,-1,0,1,2,3,4,5], "labelExpr": "toString(datum.value)"}},
           "y2": {"field": "tw1"},
           "color": {"field": "r", "type": "quantitative", "scale": {"domain": [0,10,20,30,40,50,60,70,80,90,100], "range": ["#ffffff","#fce4f2","#f2c6f2","#c4aaf6","#8ea8f8","#62e6f2","#46e050","#8cec34","#ecf422","#f89a20","#f03018"], "interpolate": "rgb"}, "legend": {"title": null, "orient": "none", "legendX": 397, "legendY": 0, "values": [0,20,40,60,80,100], "labelOffset": 16, "encode": {"labels": {"update": {"baseline": {"value": "middle"}}}}}}
         }},
        {"mark": {"type": "rect", "opacity": 0},
         "encoding": {
           "x": {"field": "ch0", "type": "quantitative", "axis": {"orient": "top", "values": [3,4,5,6,7,8,9,10,11,12,13,14,15,16,17,18,19,20,21,22,23,24,25,26,27,28,29,30,31,32], "labels": false, "grid": false, "title": null}},
           "x2": {"field": "ch1"},
           "y": {"field": "tw", "type": "quantitative", "axis": {"orient": "right", "labels": false, "ticks": false, "grid": false, "title": "Filter ratio (%)", "titleAngle": 270, "titleX": 105, "titleY": 133.5, "titleAlign": "center", "titleBaseline": "middle", "titleFontSize": 20}},
           "y2": {"field": "tw1"}
         }}
      ]
    },
    {
      "title": "(e) Method 3",
      "width": 385, "height": 267,
      "transform": [{"filter": "datum.p === 'e'"}, {"calculate": "datum.ch - 0.5", "as": "ch0"}, {"calculate": "datum.ch + 0.5", "as": "ch1"}, {"calculate": "datum.tw + 1", "as": "tw1"}],
      "layer": [
        {"mark": {"type": "rect"},
         "encoding": {
           "x": {"field": "ch0", "type": "quantitative", "title": "Channel of diameter", "scale": {"domain": [2.5, 32.5], "nice": false, "zero": false}, "axis": {"orient": "bottom", "values": [3,4,5,6,7,8,9,10,11,12,13,14,15,16,17,18,19,20,21,22,23,24,25,26,27,28,29,30,31,32], "labelExpr": "datum.value % 5 === 0 ? datum.label : ''", "gridOpacity": {"condition": {"test": "datum.value % 5 === 0", "value": 1}, "value": 0}}},
           "x2": {"field": "ch1"},
           "y": {"field": "tw", "type": "quantitative", "title": "Wet-bulb temperature (°)", "scale": {"domain": [-5, 5], "nice": false, "zero": false}, "axis": {"orient": "left", "values": [-5,-4,-3,-2,-1,0,1,2,3,4,5], "labelExpr": "toString(datum.value)"}},
           "y2": {"field": "tw1"},
           "color": {"field": "r", "type": "quantitative", "scale": {"domain": [0,10,20,30,40,50,60,70,80,90,100], "range": ["#ffffff","#fce4f2","#f2c6f2","#c4aaf6","#8ea8f8","#62e6f2","#46e050","#8cec34","#ecf422","#f89a20","#f03018"], "interpolate": "rgb"}, "legend": {"title": null, "orient": "none", "legendX": 397, "legendY": 0, "values": [0,20,40,60,80,100], "labelOffset": 16, "encode": {"labels": {"update": {"baseline": {"value": "middle"}}}}}}
         }},
        {"mark": {"type": "rect", "opacity": 0},
         "encoding": {
           "x": {"field": "ch0", "type": "quantitative", "axis": {"orient": "top", "values": [3,4,5,6,7,8,9,10,11,12,13,14,15,16,17,18,19,20,21,22,23,24,25,26,27,28,29,30,31,32], "labels": false, "grid": false, "title": null}},
           "x2": {"field": "ch1"},
           "y": {"field": "tw", "type": "quantitative", "axis": {"orient": "right", "labels": false, "ticks": false, "grid": false, "title": "Filter ratio (%)", "titleAngle": 270, "titleX": 105, "titleY": 133.5, "titleAlign": "center", "titleBaseline": "middle", "titleFontSize": 20}},
           "y2": {"field": "tw1"}
         }}
      ]
    },
    {
      "title": "(f) Method 3 (melted)",
      "width": 385, "height": 267,
      "transform": [{"filter": "datum.p === 'f'"}, {"calculate": "datum.ch - 0.5", "as": "ch0"}, {"calculate": "datum.ch + 0.5", "as": "ch1"}, {"calculate": "datum.tw + 1", "as": "tw1"}],
      "layer": [
        {"mark": {"type": "rect"},
         "encoding": {
           "x": {"field": "ch0", "type": "quantitative", "title": "Channel of diameter", "scale": {"domain": [2.5, 32.5], "nice": false, "zero": false}, "axis": {"orient": "bottom", "values": [3,4,5,6,7,8,9,10,11,12,13,14,15,16,17,18,19,20,21,22,23,24,25,26,27,28,29,30,31,32], "labelExpr": "datum.value % 5 === 0 ? datum.label : ''", "gridOpacity": {"condition": {"test": "datum.value % 5 === 0", "value": 1}, "value": 0}}},
           "x2": {"field": "ch1"},
           "y": {"field": "tw", "type": "quantitative", "title": "Wet-bulb temperature (°)", "scale": {"domain": [-5, 5], "nice": false, "zero": false}, "axis": {"orient": "left", "values": [-5,-4,-3,-2,-1,0,1,2,3,4,5], "labelExpr": "toString(datum.value)"}},
           "y2": {"field": "tw1"},
           "color": {"field": "r", "type": "quantitative", "scale": {"domain": [0,10,20,30,40,50,60,70,80,90,100], "range": ["#ffffff","#fce4f2","#f2c6f2","#c4aaf6","#8ea8f8","#62e6f2","#46e050","#8cec34","#ecf422","#f89a20","#f03018"], "interpolate": "rgb"}, "legend": {"title": null, "orient": "none", "legendX": 397, "legendY": 0, "values": [0,20,40,60,80,100], "labelOffset": 16, "encode": {"labels": {"update": {"baseline": {"value": "middle"}}}}}}
         }},
        {"mark": {"type": "rect", "opacity": 0},
         "encoding": {
           "x": {"field": "ch0", "type": "quantitative", "axis": {"orient": "top", "values": [3,4,5,6,7,8,9,10,11,12,13,14,15,16,17,18,19,20,21,22,23,24,25,26,27,28,29,30,31,32], "labels": false, "grid": false, "title": null}},
           "x2": {"field": "ch1"},
           "y": {"field": "tw", "type": "quantitative", "axis": {"orient": "right", "labels": false, "ticks": false, "grid": false, "title": "Filter ratio (%)", "titleAngle": 270, "titleX": 105, "titleY": 133.5, "titleAlign": "center", "titleBaseline": "middle", "titleFontSize": 20}},
           "y2": {"field": "tw1"}
         }}
      ]
    }
  ],
  "config": {
    "view": {"stroke": "#444", "strokeWidth": 1},
    "font": "DejaVu Sans",
    "title": {"font": "Liberation Serif", "fontSize": 24, "fontWeight": "normal", "color": "#000", "anchor": "start", "frame": "group", "dx": -88, "offset": 38},
    "axis": {"labelFont": "DejaVu Sans", "labelFontSize": 20, "labelColor": "#111", "titleFont": "DejaVu Sans", "titleFontSize": 21.5, "titleFontWeight": "normal", "titleColor": "#111", "domain": false, "gridColor": "#222", "gridDash": [2, 3], "gridWidth": 1, "zindex": 1, "labelOverlap": false, "labelFlush": false},
    "axisX": {"tickSize": -6, "tickColor": "#333", "labelPadding": 10, "titlePadding": 3, "labelAngle": 0},
    "axisY": {"ticks": false, "labelPadding": 12, "titlePadding": 16},
    "legend": {"gradientLength": 267, "gradientThickness": 16, "gradientStrokeColor": "#888", "gradientStrokeWidth": 1, "labelFont": "DejaVu Sans", "labelFontSize": 20, "labelColor": "#111", "labelOffset": 16, "labelOverlap": false, "padding": 0}
  }
}
